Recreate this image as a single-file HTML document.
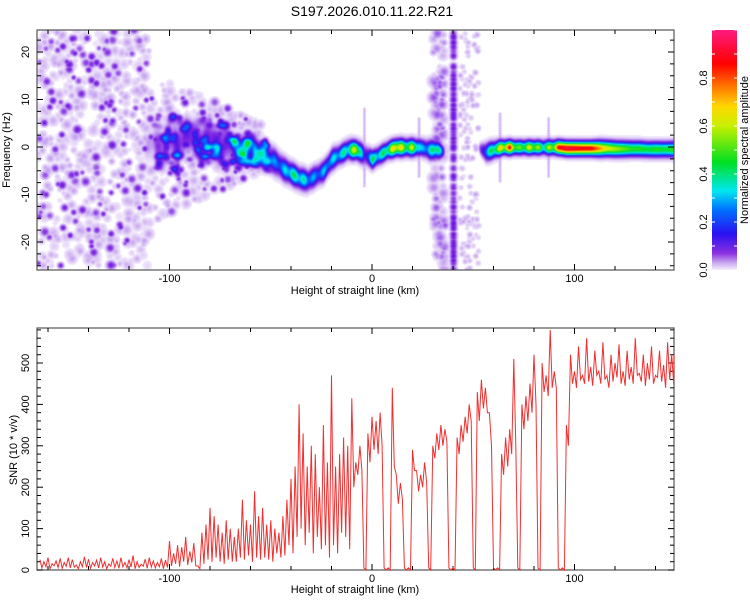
<!DOCTYPE html>
<html><head><meta charset="utf-8"><style>
html,body{margin:0;padding:0;background:#fff;}
#wrap{position:relative;width:750px;height:600px;overflow:hidden;font-family:"Liberation Sans",sans-serif;}
canvas{position:absolute;left:37px;top:30px;}
svg{position:absolute;left:0;top:0;}
text{font-family:"Liberation Sans",sans-serif;font-size:11px;fill:#000;}
</style></head><body>
<div id="wrap">
<canvas id="hm" width="637" height="240"></canvas>
<svg id="sv" width="750" height="600">
<defs><linearGradient id="cb" x1="0" y1="1" x2="0" y2="0">
<stop offset="0" stop-color="#f4eefc"/><stop offset="0.03" stop-color="#c9a8f0"/><stop offset="0.07" stop-color="#8a30e0"/>
<stop offset="0.15" stop-color="#2a10f0"/><stop offset="0.25" stop-color="#0070ff"/><stop offset="0.33" stop-color="#00e8f0"/>
<stop offset="0.45" stop-color="#00e020"/><stop offset="0.6" stop-color="#c8f000"/><stop offset="0.68" stop-color="#ffd800"/>
<stop offset="0.77" stop-color="#ff7000"/><stop offset="0.86" stop-color="#ff0000"/><stop offset="1" stop-color="#ff1a80"/>
</linearGradient></defs>
<text x="372" y="16" text-anchor="middle" style="font-size:14px">S197.2026.010.11.22.R21</text>
<rect x="712" y="30" width="25" height="240" fill="url(#cb)"/>
<text transform="translate(748,150) rotate(-90)" text-anchor="middle">Normalized spectral amplitude</text>
<text transform="translate(10,150) rotate(-90)" text-anchor="middle">Frequency (Hz)</text>
<text x="355" y="294" text-anchor="middle">Height of straight line (km)</text>
<text transform="translate(17,450) rotate(-90)" text-anchor="middle">SNR (10 * v/v)</text>
<text x="355" y="593" text-anchor="middle">Height of straight line (km)</text>
<g id="axes"></g>
<path id="snr" fill="none" stroke="#f03030" stroke-width="1"/>
</svg>
</div>
<script>
// ---- SNR data (height step 2 km from -164 to 148) ----
const snrHeights = [];
for (let i = 0; i < 157; i++) snrHeights.push(-164 + 2 * i);
const snrHi = [25,20,30,15,22,28,18,30,25,12,20,32,26,18,24,30,20,15,28,22,30,18,25,35,20,14,26,30,22,18,28,24,
70,40,60,55,80,45,65,10,
90,110,150,130,110,90,120,100,
80,100,170,120,110,190,130,
150,110,120,100,90,130,
170,220,250,400,330,250,
300,280,200,350,260,
470,250,280,320,300,
415,260,300,
5,
330,370,360,380,
5,5,
440,
230,210,
5,5,
290,240,230,260,
5,
300,330,350,340,
5,5,
320,350,370,400,
5,
430,460,440,380,
5,5,
280,320,340,510,
5,
400,420,450,520,
5,
500,470,580,480,
5,5,
350,
520,480,540,470,560,490,530,480,550,470,520,500,545,480,530,490,560,475,520,500,540,470,530,495,550,520];
const snrLo = [5,8,3,10,6,4,9,5,7,3,8,6,4,10,5,7,3,9,6,4,8,5,7,3,6,9,4,7,5,8,3,6,
10,15,8,20,12,18,10,3,
15,25,20,30,20,15,25,20,
20,30,25,35,20,30,25,
30,25,20,40,30,35,
60,40,80,100,60,90,
40,80,50,60,30,
60,40,90,80,50,
200,230,240,
0,
260,290,280,300,
0,0,
250,
160,170,
0,0,
240,190,200,210,
0,
270,290,300,310,
0,0,
280,310,330,360,
0,
360,390,380,300,
0,0,
230,250,280,300,
0,
340,360,380,400,
0,
430,420,440,440,
0,0,
300,
450,440,460,450,455,445,470,450,460,440,455,465,450,445,460,450,470,455,445,460,450,465,455,440,460,450];

// ---- Spectrogram ridge data ----
const ridgeH = [-112,-108,-104,-100,-96,-92,-88,-84,-80,-76,-72,-68,-64,-60,-56,-52,-48,-44,-40,-36,-32,-28,-24,-20,-16,-12,-8,-4,0,4,8,12,16,20,24,28,32,36,40,44,48,52,56,60,64,68,72,76,80,84,88,92,96,100,104,108,112,116,120,124,128,132,136,140,144,148];
const ridgeF = [0,1,-1,2,0,3,2,1,2,0,1,0,-0.5,0,-1.5,-2,-3,-4.5,-5.5,-6.5,-7,-6,-5,-2.5,-1.5,-0.5,-0.5,-1.5,-2.5,-1.5,-0.5,0,0,0,0,-0.5,-0.5,-1,0,0,0,0,-1,-0.5,0,0,0,0,0,0,0,0,-0.2,-0.2,-0.2,-0.2,-0.2,-0.2,-0.3,-0.3,-0.3,-0.3,-0.4,-0.4,-0.4,-0.4];
const ridgeA = [0.04,0.08,0.12,0.12,0.14,0.13,0.15,0.12,0.15,0.13,0.12,0.14,0.2,0.25,0.3,0.24,0.26,0.3,0.42,0.4,0.32,0.27,0.3,0.32,0.36,0.42,0.7,0.15,0.42,0.38,0.52,0.8,0.55,0.6,0.3,0.35,0.5,0.05,0,0,0,0,0.3,0.5,0.7,0.85,0.5,0.6,0.65,0.45,0.6,0.85,0.9,0.88,0.85,0.85,0.72,0.6,0.55,0.5,0.45,0.45,0.42,0.45,0.42,0.45];
const ridgeW = [3,3,3.5,3.5,3.5,3,3,3.5,3,3,3,2.5,2.5,2.2,2.2,2.2,2.2,2,1.8,1.8,1.8,1.8,1.8,1.8,1.6,1.6,1.5,1.8,1.5,1.5,1.4,1.4,1.4,1.4,1.4,1.6,1.4,1,1,1,1,1,1.6,1.4,1.2,1.2,1.2,1.2,1.2,1.2,1.2,1.2,1.2,1.2,1.2,1.2,1.3,1.3,1.3,1.3,1.3,1.3,1.3,1.3,1.3,1.3];

const X = h => 372 + h * 2.025;
const YT = f => 147 - f * 4.75;
const YB = v => 570 - v * 0.414;
const H0 = (37 - 372) / 2.025, H1 = (674 - 372) / 2.025;

// ---- SNR path ----
let d = '';
for (let i = 0; i < snrHeights.length; i++) {
  const h = snrHeights[i];
  d += (i ? 'L' : 'M') + X(Math.max(h, H0)).toFixed(1) + ' ' + YB(snrHi[i]).toFixed(1);
  d += 'L' + X(Math.min(h + 1, H1)).toFixed(1) + ' ' + YB(snrLo[i]).toFixed(1);
}
d += 'L674 ' + YB(snrHi[snrHi.length-1]).toFixed(1);
document.getElementById('snr').setAttribute('d', d);

// ---- Axes ----
const NS = 'http://www.w3.org/2000/svg';
const ax = document.getElementById('axes');
function el(tag, attrs, txt) {
  const e = document.createElementNS(NS, tag);
  for (const k in attrs) e.setAttribute(k, attrs[k]);
  if (txt !== undefined) e.textContent = txt;
  ax.appendChild(e);
  return e;
}
function frame(y0, y1, name) {
  const r = el('rect', {x:37, y:y0, width:637, height:y1-y0, fill:'none', stroke:'#555', 'stroke-width':1.2});
  
  
}
function xTicks(y0, y1, pre) {
  for (let h = -160; h <= 140; h += 20) {
    const x = X(h), major = h % 100 === 0, L = major ? 6 : 4;
    el('line', {x1:x, x2:x, y1:y0, y2:y0+L, stroke:'#000'});
    el('line', {x1:x, x2:x, y1:y1, y2:y1-L, stroke:'#000'});
    if (major) {
      const t = el('text', {x:x, y:y1+12, 'text-anchor':'middle'}, String(h));
      
      
    }
  }
}
frame(30, 270, 'top-plot-frame');
frame(328, 570, 'bottom-plot-frame');
xTicks(30, 270, 'top');
xTicks(328, 570, 'bottom');
for (let f = -25; f <= 25; f += 2.5) {
  const y = YT(f); if (y < 30 || y > 270) continue;
  const major = f % 10 === 0, L = major ? 6 : 4;
  el('line', {x1:37, x2:37+L, y1:y, y2:y, stroke:'#000'});
  el('line', {x1:674, x2:674-L, y1:y, y2:y, stroke:'#000'});
  if (major) {
    const t = el('text', {transform:`translate(29,${y}) rotate(-90)`, 'text-anchor':'middle'}, String(f));
    
    
  }
}
for (let v = 0; v <= 580; v += 20) {
  const y = YB(v);
  const major = v % 100 === 0, L = major ? 6 : 4;
  el('line', {x1:37, x2:37+L, y1:y, y2:y, stroke:'#000'});
  el('line', {x1:674, x2:674-L, y1:y, y2:y, stroke:'#000'});
  if (major) {
    const t = el('text', {transform:`translate(29,${y}) rotate(-90)`, 'text-anchor':'middle'}, String(v));
    
    
  }
}
for (let c = 0; c <= 0.8001; c += 0.2) {
  const y = 270 - c * 240;
  const t = el('text', {transform:`translate(707,${y}) rotate(-90)`, 'text-anchor':'middle'}, c.toFixed(1));
  
  
}
for (let c = 0; c <= 1.0001; c += 0.1) {
  const y = 270 - c * 240;
  el('line', {x1:712, x2:715, y1:y, y2:y, stroke:'#fff'});
  el('line', {x1:737, x2:734, y1:y, y2:y, stroke:'#fff'});
}

// ---- Heatmap ----
const W = 637, HH = 240;
const field = new Float32Array(W * HH);
const noise = new Float32Array(W * HH);
function interp(arr, h) {
  if (h <= ridgeH[0]) return arr[0] * Math.max(0, 1 - (ridgeH[0] - h) / 4);
  for (let i = 1; i < ridgeH.length; i++) if (h <= ridgeH[i]) {
    const t = (h - ridgeH[i-1]) / (ridgeH[i] - ridgeH[i-1]);
    return arr[i-1] * (1 - t) + arr[i] * t;
  }
  return arr[arr.length-1];
}
for (let px = 0; px < W; px++) {
  const h = (px + 37 - 372) / 2.025;
  if (h < ridgeH[0] - 4) continue;
  const f0 = interp(ridgeF, h), a = interp(ridgeA, h), w = interp(ridgeW, h);
  const mod = h > 92 ? 1 : 0.85 + 0.15 * Math.cos(h * 1.3);
  for (let py = 0; py < HH; py++) {
    const f = (147 - (py + 30)) / 4.75;
    const z = (f - f0) / w;
    field[py*W+px] += a * mod * Math.exp(-z*z) + Math.min(0.03, a*0.06) * Math.exp(-z*z/4);
  }
}
// texture blobs (seeded)
let seed = 12345;
function rnd() { seed = (seed * 1103515245 + 12345) & 0x7fffffff; return seed / 0x7fffffff; }
function blob(cx, cy, r, a, rx, add) {
  rx = rx || r;
  const x0 = Math.max(0, Math.floor(cx - 2*rx)), x1 = Math.min(W-1, Math.ceil(cx + 2*rx));
  const y0 = Math.max(0, Math.floor(cy - 2*r)), y1 = Math.min(HH-1, Math.ceil(cy + 2*r));
  for (let y = y0; y <= y1; y++) for (let x = x0; x <= x1; x++) {
    const dd = (x-cx)*(x-cx)/(rx*rx) + (y-cy)*(y-cy)/(r*r);
    const v = a * Math.exp(-dd);
    if (add) field[y*W+x] += v;
    else if (v > noise[y*W+x]) noise[y*W+x] = v;
  }
}
for (let i = 0; i < 1400; i++) {
  const h = -165 + rnd() * 110;
  const spread = h < -110 ? 25 : Math.max(4, 16 - (h + 110) * 0.2);
  if (h > -110 && rnd() < 0.5) continue;
  const f = (rnd() * 2 - 1) * spread;
  const dark = rnd() < 0.18;
  blob(X(h) - 37, YT(f) - 30, dark ? 2.5 + rnd()*2 : 3 + rnd() * 3, dark ? 0.09 + rnd()*0.05 : 0.02 + rnd() * 0.035);
}
// clustered blobs near ridge (left, blue speckle)
for (let i = 0; i < 110; i++) {
  const h = -108 + rnd() * 58;
  const f = interp(ridgeF, h) + (rnd() * 2 - 1) * (h < -70 ? 6 : 3.5);
  blob(X(h) - 37, YT(f) - 30, 2.5 + rnd()*2, 0.04 + rnd()*0.09, 2.5 + rnd()*2.5, true);
}
// vertical bands
for (let i = 0; i < 140; i++) {
  const y = rnd() * 240;
  blob(X(30 + rnd()*6) - 37, y, 3 + rnd()*3, 0.03 + rnd()*0.06);
  blob(X(43 + rnd()*9.5) - 37, y, 3, 0.025 + rnd()*0.03);
  blob(X(40) - 37, y, 4, 0.09 + rnd()*0.06, 3.5);
}
// short vertical streaks
[[-4,8],[23,6],[63,7],[87,6]].forEach(s => {
  for (let f = -s[1]; f <= s[1]; f += 0.5) blob(X(s[0]) - 37, YT(f) - 30, 2, 0.05, 1.5);
});
const stops = [[0,[255,255,255]],[0.012,[244,238,252]],[0.04,[215,190,244]],[0.08,[160,100,235]],[0.12,[125,35,225]],
 [0.17,[60,20,235]],[0.25,[0,110,255]],[0.33,[0,230,240]],[0.45,[0,225,40]],[0.6,[200,240,0]],[0.68,[255,215,0]],
 [0.77,[255,110,0]],[0.86,[255,0,0]],[1,[255,30,130]]];
function cmap(v) {
  if (v <= 0.012) return [255,255,255];
  if (v >= 1) return stops[stops.length-1][1];
  for (let i = 1; i < stops.length; i++) if (v <= stops[i][0]) {
    const t = (v - stops[i-1][0]) / (stops[i][0] - stops[i-1][0]);
    const a = stops[i-1][1], b = stops[i][1];
    return [a[0]+(b[0]-a[0])*t, a[1]+(b[1]-a[1])*t, a[2]+(b[2]-a[2])*t];
  }
}
const ctx = document.getElementById('hm').getContext('2d');
const img = ctx.createImageData(W, HH);
for (let i = 0; i < W*HH; i++) {
  const c = cmap(Math.max(field[i], noise[i]) + Math.min(field[i], noise[i]) * 0.3);
  img.data[i*4] = c[0]; img.data[i*4+1] = c[1]; img.data[i*4+2] = c[2]; img.data[i*4+3] = 255;
}
ctx.putImageData(img, 0, 0);
</script>
</body></html>
